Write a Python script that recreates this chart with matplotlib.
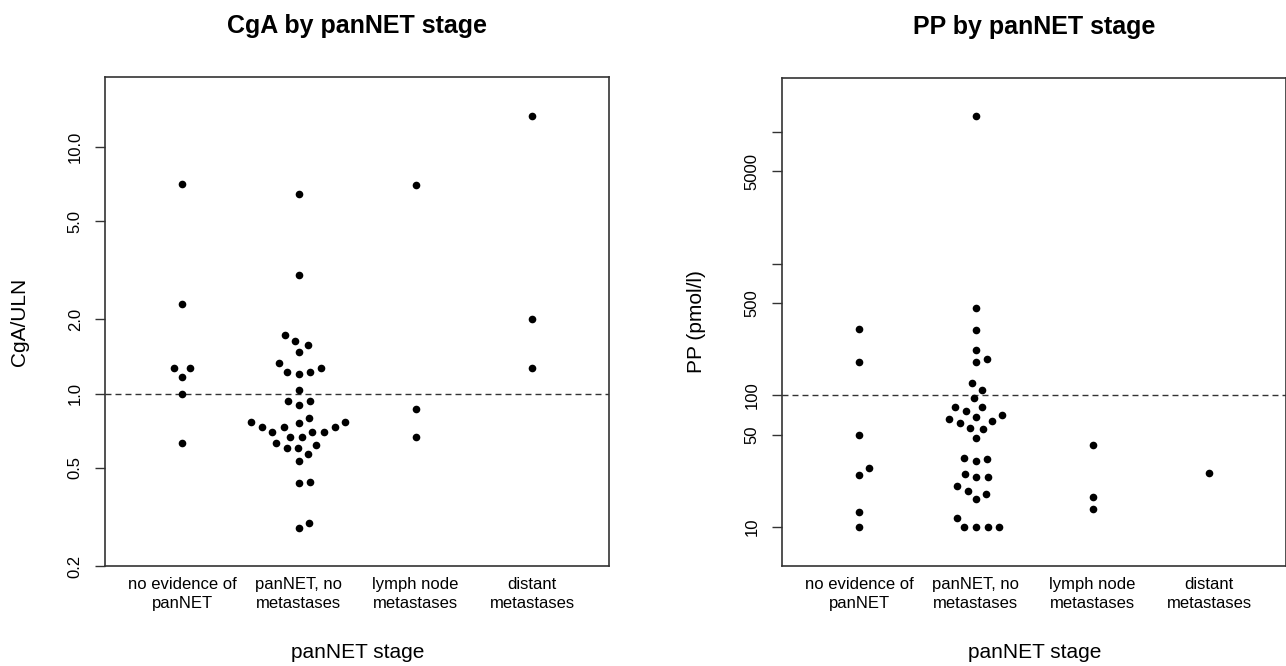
import numpy as np
import matplotlib
matplotlib.use("Agg")
import matplotlib.pyplot as plt
from matplotlib.ticker import FixedLocator, NullLocator, FixedFormatter

plt.rcParams['font.family'] = ['Liberation Sans', 'DejaVu Sans']

# ---------------- data ----------------
stages = ["no evidence of\npanNET", "panNET, no\nmetastases",
          "lymph node\nmetastases", "distant\nmetastases"]

cga_no_evidence = [7.05, 2.31, 1.27, 1.27, 1.17, 1.00, 0.632]
cga_no_mets = [6.44, 3.035, 1.731, 1.637, 1.572, 1.476, 1.328, 1.271, 1.228, 1.228,
               1.198, 1.031, 0.930, 0.930, 0.899, 0.796, 0.769, 0.769, 0.760,
               0.732, 0.732, 0.732, 0.700, 0.700, 0.700, 0.669, 0.664, 0.632,
               0.618, 0.599, 0.599, 0.567, 0.532, 0.439, 0.432, 0.299, 0.285]
cga_lymph = [7.03, 0.866, 0.664]
cga_distant = [13.36, 2.005, 1.267]

pp_no_evidence = [318.8, 178.9, 49.7, 27.9, 24.97, 12.9, 10.0]
pp_no_mets = [13130, 460, 315, 219.5, 189.7, 178.9, 123.3, 109.7, 94.8, 82.0, 82.0,
              76.0, 71.3, 68.8, 66.4, 63.8, 62.0, 56.8, 55.8, 47.4, 33.4, 33.0,
              31.9, 25.4, 24.0, 24.0, 20.6, 18.9, 17.9, 16.3, 11.8,
              10.0, 10.0, 10.0, 10.0]
pp_lymph = [42.2, 16.9, 13.7]
pp_distant = [25.9]

cga_ticks = [0.2, 0.5, 1.0, 2.0, 5.0, 10.0]
cga_ticklabels = ["0.2", "0.5", "1.0", "2.0", "5.0", "10.0"]
pp_ticks = [10, 50, 100, 500, 1000, 5000, 10000]
pp_ticklabels = ["10", "50", "100", "500", "", "5000", ""]

cga_reference = 1.0
pp_reference = 100

# ---------------- figure ----------------
W, H, DPI = 1286, 666, 100
fig = plt.figure(figsize=(W / DPI, H / DPI), dpi=DPI)

SPACING_PX = 11.7   # beeswarm spacing in pixels


def swarm_offsets(ypix, d):
    """R beeswarm 'swarm' method (ascending priority), in pixel units."""
    ypix = np.asarray(ypix, float)
    n = len(ypix)
    xs = np.zeros(n)
    order = np.argsort(ypix, kind="stable")
    placed = []
    for idx in order:
        yi = ypix[idx]
        pre = [j for j in placed if abs(yi - ypix[j]) < d]
        if pre:
            pre.sort(key=lambda j: abs(xs[j]))
            offs = [np.sqrt(max(d * d - (yi - ypix[j]) ** 2, 0)) for j in pre]
            cands = [0.0] + [xs[j] + o for j, o in zip(pre, offs)] + \
                    [xs[j] - o for j, o in zip(pre, offs)]
            best, bestabs = 0.0, np.inf
            for c in cands:
                bad = any((c - xs[j]) ** 2 + (yi - ypix[j]) ** 2 < 0.999 * d * d
                          for j in pre)
                if not bad and abs(c) < bestabs:
                    best, bestabs = c, abs(c)
            xs[idx] = best
        else:
            xs[idx] = 0.0
        placed.append(idx)
    return xs


def panel(rect, groups, ylim, ticks, ticklabels, ylabel, title, ref):
    ax = fig.add_axes(rect)
    ax.set_yscale("log")
    ax.set_xlim(0.34, 4.66)
    ax.set_ylim(*ylim)
    fig.canvas.draw()
    px_per_unit = (ax.transData.transform((1, 1))[0] -
                   ax.transData.transform((0, 1))[0])
    for i, vals in enumerate(groups):
        vals = np.asarray(vals, float)
        pos = i + 1
        ypix = ax.transData.transform(np.column_stack([np.full(len(vals), pos), vals]))[:, 1]
        offs = swarm_offsets(ypix, SPACING_PX) / px_per_unit
        ax.plot(pos + offs, vals, "o", color="black", markersize=5.5,
                markeredgewidth=0, clip_on=False, zorder=3)
    ax.axhline(ref, color="#333333", lw=1.0, linestyle=(0, (4.3, 2.9)), zorder=2)
    ax.yaxis.set_major_locator(FixedLocator(ticks))
    ax.yaxis.set_major_formatter(FixedFormatter(ticklabels))
    ax.yaxis.set_minor_locator(NullLocator())
    ax.set_xticks(range(1, len(stages) + 1))
    ax.set_xticklabels(stages, fontsize=12, linespacing=1.3)
    ax.tick_params(axis="x", length=0, pad=8)
    ax.tick_params(axis="y", length=7, width=1.0, color="#333333", pad=9,
                   labelsize=12)
    for lab in ax.get_yticklabels():
        lab.set_rotation(90)
        lab.set_va("center")
    for sp in ax.spines.values():
        sp.set_color("#333333")
        sp.set_linewidth(1.2)
    ax.set_ylabel(ylabel, fontsize=15)
    ax.set_xlabel("panNET stage", fontsize=15)
    ax.xaxis.set_label_coords(0.5, -0.158)
    ax.yaxis.set_label_coords(-0.15, 0.5)
    ax.set_title(title, fontsize=18, fontweight="bold", pad=32)
    return ax


ax1 = panel([105 / W, 100 / H, 504.4 / W, 489 / H],
            [cga_no_evidence, cga_no_mets, cga_lymph, cga_distant],
            (0.2, 19.2), cga_ticks, cga_ticklabels, "CgA/ULN",
            "CgA by panNET stage", cga_reference)
ax2 = panel([782 / W, 100 / H, 504.4 / W, 488 / H],
            [pp_no_evidence, pp_no_mets, pp_lymph, pp_distant],
            (5.06, 25600), pp_ticks, pp_ticklabels, "PP (pmol/l)",
            "PP by panNET stage", pp_reference)

fig.savefig("out.png", dpi=DPI, facecolor="white")
